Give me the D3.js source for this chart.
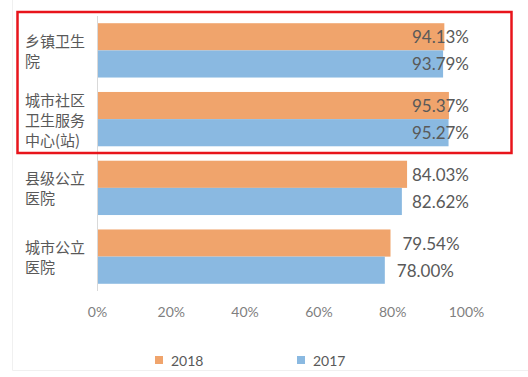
<!DOCTYPE html>
<html>
<head>
<meta charset="utf-8">
<script src="https://cdn.jsdelivr.net/npm/d3@7"></script>
<style>
  body { margin: 0; background: #fff; }
  svg { display: block; }
</style>
</head>
<body>
<svg id="chart" width="528" height="377"></svg>
<script>
// categories, top to bottom; each name is split into its label lines
const categories = ['乡镇卫生院', '城市社区卫生服务中心(站)', '县级公立医院', '城市公立医院']
const categoryLines = [['乡镇卫生', '院'], ['城市社区', '卫生服务', '中心(站)'], ['县级公立', '医院'], ['城市公立', '医院']]
const years = ['2018', '2017']
const values2018 = [94.13, 95.37, 84.03, 79.54]
const values2017 = [93.79, 95.27, 82.62, 78.00]
const ticks = [0, 20, 40, 60, 80, 100]

const colors = {2018: '#f0a46c', 2017: '#8ab9e1'}
const series = {2018: values2018, 2017: values2017}

const svg = d3.select('#chart')

const x = d3.scaleLinear().domain([0, 100]).range([97, 466])
const y = d3.scaleBand().domain(categories).range([16, 291]).paddingInner(0.21).paddingOuter(0.105)
const yInner = d3.scaleBand().domain(years).range([0, y.bandwidth()])

// faint frame of the chart area
svg.append('path')
  .attr('d', 'M12.5,0V370.5H528')
  .attr('fill', 'none')
  .attr('stroke', '#f0f0f0')

const groups = svg.append('g').selectAll('g')
  .data(categories)
  .join('g')
  .attr('transform', d => `translate(0,${y(d)})`)

groups.selectAll('rect')
  .data((d, i) => years.map(yr => ({yr, v: series[yr][i]})))
  .join('rect')
  .attr('x', x(0))
  .attr('y', d => yInner(d.yr))
  .attr('width', d => x(d.v) - x(0))
  .attr('height', yInner.bandwidth())
  .attr('fill', d => colors[d.yr])

// value labels: just right of the bar, held inside the right edge
const labelRight = 469
groups.selectAll('text.value')
  .data((d, i) => years.map(yr => ({yr, v: series[yr][i]})))
  .join('text')
  .attr('class', 'value')
  .attr('y', d => yInner(d.yr) + yInner.bandwidth() / 2)
  .attr('dominant-baseline', 'central')
  .attr('text-anchor', 'end')
  .attr('font-family', 'Lato, "Open Sans", sans-serif')
  .attr('font-size', 17)
  .attr('fill', '#595959')
  .text(d => d.v.toFixed(2) + '%')
  .attr('x', function (d) {
    const w = this.getComputedTextLength()
    return Math.min(x(d.v) + 12 + w, labelRight)
  })

// y axis line
svg.append('line')
  .attr('x1', x(0) + 0.5).attr('x2', x(0) + 0.5)
  .attr('y1', y.range()[0]).attr('y2', y.range()[1])
  .attr('stroke', '#d9d9d9')

// category labels
svg.append('g').selectAll('text')
  .data(categories)
  .join('text')
  .attr('font-family', '"Noto Sans CJK SC", sans-serif')
  .attr('font-size', 15)
  .attr('fill', '#595959')
  .each(function (d, i) {
    const lines = categoryLines[i]
    const cy = y(d) + y.bandwidth() / 2
    d3.select(this).selectAll('tspan')
      .data(lines)
      .join('tspan')
      .attr('x', 25)
      .attr('y', (l, j) => cy + (j - (lines.length - 1) / 2) * 20)
      .attr('dominant-baseline', 'central')
      .text(l => l)
  })

// x axis tick labels
const xAxis = d3.axisBottom(x).tickValues(ticks).tickFormat(d => d + '%').tickSize(0).tickPadding(0)
svg.append('g')
  .attr('transform', 'translate(0,307)')
  .call(xAxis)
  .call(g => g.select('.domain').remove())
  .call(g => g.selectAll('text')
    .attr('font-family', 'Lato, "Open Sans", sans-serif')
    .attr('font-size', 14)
    .attr('fill', '#7f7f7f'))

// legend
const legend = svg.append('g').selectAll('g')
  .data(years)
  .join('g')
  .attr('transform', (d, i) => `translate(${[155, 297][i]},360)`)
legend.append('rect')
  .attr('x', 0).attr('y', -4)
  .attr('width', 8).attr('height', 8)
  .attr('fill', d => colors[d])
legend.append('text')
  .attr('x', 16)
  .attr('dominant-baseline', 'central')
  .attr('font-family', 'Lato, "Open Sans", sans-serif')
  .attr('font-size', 14)
  .attr('fill', '#595959')
  .text(d => d)

// red highlight box round the first two categories
svg.append('rect')
  .attr('x', 17.5).attr('y', 12)
  .attr('width', 494).attr('height', 141)
  .attr('fill', 'none')
  .attr('stroke', '#e8141b')
  .attr('stroke-width', 2.5)
</script>
</body>
</html>
